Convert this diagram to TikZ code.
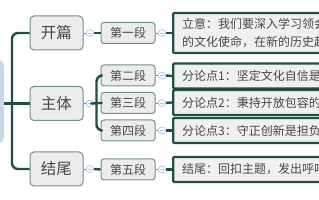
\documentclass[tikz,border=0pt]{standalone}
\usepackage{fontspec}
\setmainfont{Noto Sans CJK SC}
\usetikzlibrary{positioning}
\definecolor{lnCol}{HTML}{1F4F47}
\definecolor{bdCol}{HTML}{6E918A}
\definecolor{boxCol}{HTML}{ECECEC}
\definecolor{txtCol}{HTML}{474747}
\definecolor{foldCol}{HTML}{B9C3F0}
\definecolor{rootCol}{HTML}{C8D7EC}
\tikzset{
  lvA/.style={draw=bdCol, fill=boxCol, rounded corners=4pt, line width=1pt, minimum width=53pt,
              minimum height=34pt, inner sep=0pt, font=\fontsize{15.5}{18}\selectfont, text=txtCol},
  lvB/.style={draw=bdCol, fill=boxCol, rounded corners=3pt, line width=1pt, minimum width=54pt,
              minimum height=21pt, inner sep=0pt, font=\fontsize{12}{14}\selectfont, text=txtCol},
  lvC/.style={draw=lnCol, fill=boxCol!80!white, line width=2.4pt, rounded corners=1pt, anchor=west,
              align=left, text width=160pt, inner xsep=9pt, inner ysep=0pt, minimum height=25pt,
              font=\fontsize{12}{18}\selectfont, text=txtCol},
  fold/.style={circle, draw=foldCol, fill=white, line width=0.8pt, minimum size=7pt, inner sep=0pt,
               path picture={\draw[foldCol, line width=0.8pt]
                 ([xshift=-2pt]path picture bounding box.center) -- ([xshift=2pt]path picture bounding box.center);}},
  link/.style={lnCol, line width=2.4pt, rounded corners=6pt},   % thick branch
  stub/.style={bdCol, line width=0.8pt},                        % box to fold circle
}

\begin{document}
\begin{tikzpicture}[x=1pt, y=-1pt]
  \useasboundingbox (0,0) rectangle (319,200);
  \clip (0,0) rectangle (319,200);

  \node[fill=rootCol, rounded corners=5pt, minimum width=14pt, minimum height=83pt] (root) at (-3,101.5) {};

  \node[lvA] (kp) at (56.5,33)    {开篇};
  \node[lvA] (zt) at (56.5,103.5) {主体};
  \node[lvA] (jw) at (56.5,169)   {结尾};

  \node[lvB] (d1) at (128,33)    {第一段};
  \node[lvB] (d2) at (128,75.5)  {第二段};
  \node[lvB] (d3) at (128,103)   {第三段};
  \node[lvB] (d4) at (128,130.5) {第四段};
  \node[lvB] (d5) at (128,169.5) {第五段};

  \node[lvC, minimum height=40pt] (n1) at (172,33) {立意：我们要深入学习领会\\的文化使命，在新的历史起};
  \node[lvC] (n2) at (172,76)    {分论点1：坚定文化自信是};
  \node[lvC] (n3) at (172,102.5) {分论点2：秉持开放包容的};
  \node[lvC] (n4) at (172,130.5) {分论点3：守正创新是担负};
  \node[lvC] (n5) at (172,169.5) {结尾：回扣主题，发出呼吁};

  % trunk and branches
  \coordinate (tr) at (12,0);
  \coordinate (br) at (96.5,0);
  \draw[link] (kp.west) -- (tr |- kp) -- (tr |- jw) -- (jw.west);
  \draw[link] (root.east |- zt) -- (zt.west);
  \draw[link] (d2.west) -- (br |- d2) -- (br |- d4) -- (d4.west);

  \node[fold, right=2.5pt of kp] (f1) {};
  \node[fold, right=2.5pt of zt] (f2) {};
  \node[fold, right=2.5pt of jw] (f3) {};
  \draw[stub] (kp.east) -- (f1.west);
  \draw[stub] (zt.east) -- (f2.west);
  \draw[stub] (jw.east) -- (f3.west);
  \draw[link] (f1.east) -- (d1.west);
  \draw[link] (f2.east) -- (br |- f2) -- (d3.west);
  \draw[link] (f3.east) -- (d5.west);

  \foreach \i in {1,...,5}{
    \node[fold, right=2.5pt of d\i] (g\i) {};
    \draw[stub] (d\i.east) -- (g\i.west);
    \draw[link] (g\i.east) -- (n\i.west);
  }
\end{tikzpicture}
\end{document}
